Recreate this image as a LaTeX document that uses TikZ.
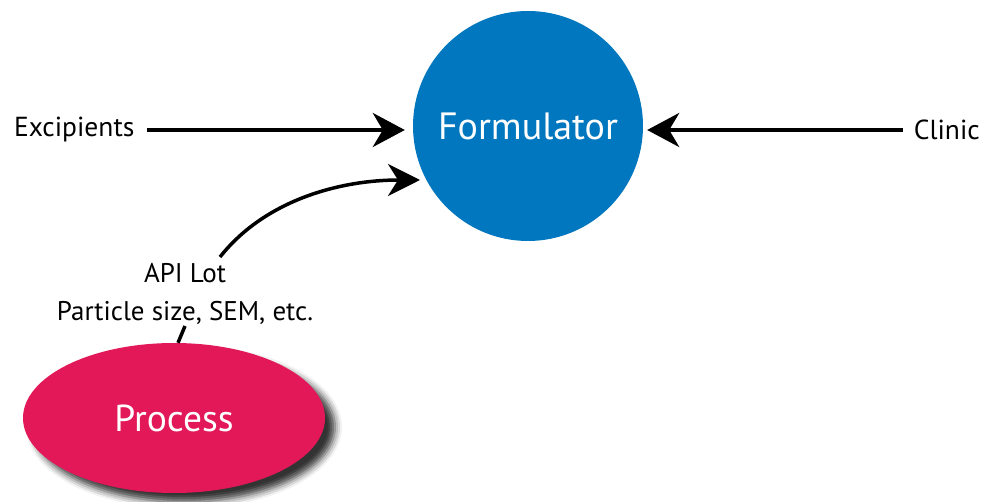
\documentclass[tikz,border=0pt]{standalone}
\usepackage{fontspec}
\setmainfont{PT Sans}
\usetikzlibrary{arrows.meta,shapes.geometric,shadows.blur}
\definecolor{formblue}{RGB}{0,119,190}
\definecolor{procpink}{RGB}{226,24,88}
\tikzset{
  bigarrow/.style={line width=4pt,-{Stealth[length=32pt,width=34pt,inset=10pt]}},
  curvearrow/.style={line width=3.5pt,-{Stealth[length=32pt,width=32pt,inset=10pt]}},
  sidelabel/.style={font=\fontsize{27.5}{32}\selectfont,inner sep=0pt},
}
\begin{document}
\begin{tikzpicture}[x=1pt,y=-1pt]
\useasboundingbox (0,0) rectangle (989,502);
\node[circle,fill=formblue,minimum size=230pt,inner sep=0pt,text=white,font=\fontsize{38}{44}\selectfont] (form) at (528,126) {Formulator};
\node[ellipse,fill=procpink,minimum width=302pt,minimum height=150pt,text=white,font=\fontsize{37.5}{42}\selectfont,
  blur shadow={shadow xshift=10pt,shadow yshift=-9pt,shadow blur radius=7pt,shadow opacity=80}] (proc) at (174,418) {Process};
\node[sidelabel,anchor=west] (exc) at (14,130) {Excipients};
\node[sidelabel,anchor=east] (clin) at (980,130) {Clinic};
\node[sidelabel,align=center,font=\fontsize{27}{38}\selectfont] (api) at (185,294) {API Lot\\Particle size, SEM, etc.};
\coordinate (cs) at (220,257);
\coordinate (ce) at (185,326);
\draw[bigarrow,shorten <=12pt,shorten >=8pt] (exc.east) -- (form.west |- exc.east);
\draw[bigarrow,shorten <=11pt,shorten >=4pt] (clin.west) -- (form.east |- clin.west);
\draw[curvearrow] (cs) .. controls (265,200) and (340,180) .. (420,180);
\draw[line width=3.5pt] (proc.north) ++(4,0) -- (ce);
\end{tikzpicture}
\end{document}
